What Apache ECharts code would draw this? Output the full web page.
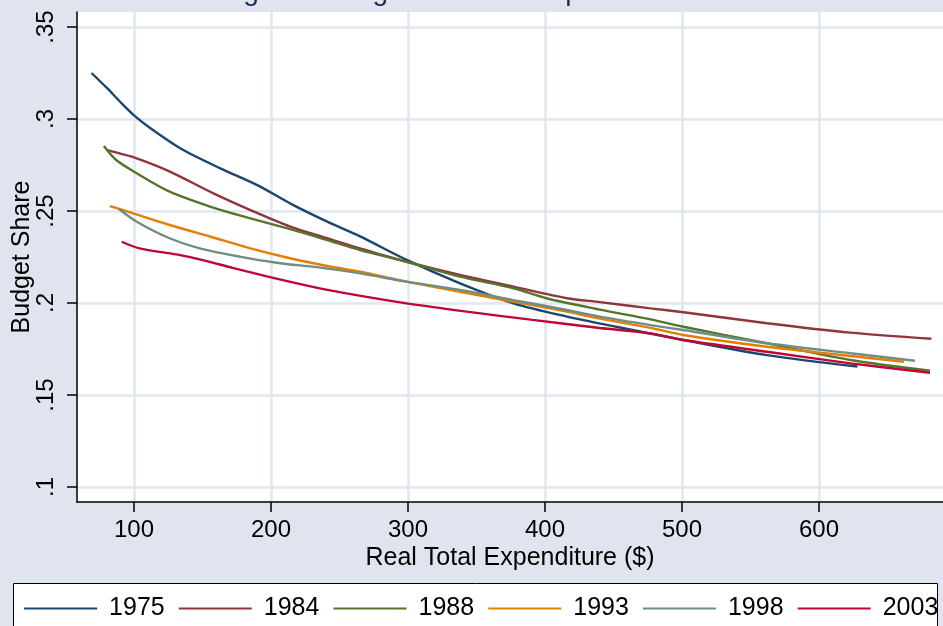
<!DOCTYPE html>
<html><head><meta charset="utf-8">
<script src="https://cdn.jsdelivr.net/npm/echarts@6/dist/echarts.min.js"></script>
<style>html,body{margin:0;padding:0;background:#dfe4ee}#c{width:943px;height:626px}</style>
</head><body><div id="c"></div>
<script>
const chartTitle = 'Figure 3: Engel Curves - Separate Years';
const xAxisTitle = 'Real Total Expenditure ($)';
const yAxisTitle = 'Budget Share';
const seriesNames = ['1975', '1984', '1988', '1993', '1998', '2003'];
const xTickValues = [100, 200, 300, 400, 500, 600];
const xTickLabels = ['100', '200', '300', '400', '500', '600'];
const yTickValues = [0.1, 0.15, 0.2, 0.25, 0.3, 0.35];
const yTickLabels = ['.1', '.15', '.2', '.25', '.3', '.35'];

const x1975 = [69, 80, 91, 100, 112, 134, 163, 190, 216, 241, 265, 299, 338, 377, 416, 452, 501, 562, 628];
const y1975 = [0.325, 0.317, 0.3085, 0.302, 0.295, 0.284, 0.2732, 0.2641, 0.2533, 0.2442, 0.2362, 0.2234, 0.2107, 0.1998, 0.1926, 0.1871, 0.1799, 0.1717, 0.1655];
const x1984 = [80, 90, 102, 125, 158, 185, 214, 241, 265, 299, 338, 377, 416, 440, 477, 501, 562, 623, 682];
const y1984 = [0.2832, 0.2812, 0.2786, 0.2718, 0.2596, 0.2505, 0.2415, 0.2352, 0.2297, 0.2224, 0.2152, 0.2089, 0.2026, 0.2005, 0.1971, 0.195, 0.189, 0.1839, 0.1806];
const x1988 = [78, 87, 102, 126, 156, 185, 216, 241, 265, 299, 338, 377, 401, 440, 477, 501, 562, 623, 681];
const y1988 = [0.2853, 0.2777, 0.2705, 0.2605, 0.2523, 0.246, 0.2397, 0.2342, 0.2288, 0.2224, 0.2143, 0.208, 0.2026, 0.1964, 0.1911, 0.1871, 0.1781, 0.169, 0.1632];
const x1993 = [82.5, 99.5, 126, 156, 185, 214, 241, 265, 299, 338, 377, 416, 440, 477, 501, 562, 623, 662];
const y1993 = [0.2527, 0.2487, 0.2424, 0.236, 0.2297, 0.2243, 0.2201, 0.217, 0.2116, 0.2061, 0.2007, 0.1953, 0.1915, 0.1865, 0.1826, 0.1762, 0.1712, 0.1681];
const x1998 = [89, 102, 126, 148, 177, 204, 236, 265, 299, 338, 377, 416, 440, 477, 501, 562, 623, 670];
const y1998 = [0.2511, 0.2442, 0.2352, 0.2297, 0.2252, 0.2219, 0.2192, 0.2161, 0.2116, 0.2071, 0.2016, 0.1962, 0.1926, 0.188, 0.1853, 0.1781, 0.1727, 0.1686];
const x2003 = [91, 104, 131, 151, 172, 197, 228, 253, 299, 343, 391, 440, 477, 501, 562, 623, 681];
const y2003 = [0.2333, 0.2297, 0.2264, 0.2232, 0.2191, 0.2145, 0.2092, 0.2055, 0.1998, 0.1953, 0.1908, 0.1864, 0.1835, 0.1799, 0.1735, 0.1672, 0.1621];

const seriesX = [x1975, x1984, x1988, x1993, x1998, x2003];
const seriesY = [y1975, y1984, y1988, y1993, y1998, y2003];
const colors = ['#1a476f', '#90353b', '#55752f', '#e37e00', '#6e8e84', '#c10534'];

const FONT = '"Liberation Sans", Arial, sans-serif';
const gridColor = '#e1e6ef';

const chart = echarts.init(document.getElementById('c'), null, {renderer: 'canvas'});
chart.setOption({
  animation: false,
  backgroundColor: '#dfe4ee',
  title: {
    text: chartTitle, left: 'center', top: -27,
    textStyle: {fontFamily: FONT, fontSize: 28, fontWeight: 'normal', color: '#1e2b57'}
  },
  grid: {left: 77, top: 12, right: 0, bottom: 124, show: true, backgroundColor: '#ffffff', borderWidth: 0,
    containLabel: false, outerBoundsMode: 'none'},
  xAxis: {
    type: 'value', min: 58.39, max: 690.5,
    name: xAxisTitle, nameLocation: 'middle', nameGap: 44, nameMoveOverlap: false,
    nameTextStyle: {fontFamily: FONT, fontSize: 25, color: '#000'},
    axisLine: {show: true, onZero: false, lineStyle: {color: '#000', width: 1.5}},
    axisTick: {show: true, length: 10, customValues: xTickValues, lineStyle: {color: '#000', width: 1.5}},
    axisLabel: {customValues: xTickValues, margin: 16, fontFamily: FONT, fontSize: 24, color: '#000',
      formatter: v => xTickLabels[xTickValues.indexOf(v)] ?? ''},
    splitLine: {show: true, lineStyle: {color: gridColor, width: 2.5}}
  },
  yAxis: {
    type: 'value', min: 0.09185, max: 0.35815,
    name: yAxisTitle, nameLocation: 'middle', nameGap: 42, nameRotate: 90, nameMoveOverlap: false,
    nameTextStyle: {fontFamily: FONT, fontSize: 25, color: '#000'},
    axisLine: {show: true, onZero: false, lineStyle: {color: '#000', width: 1.5}},
    axisTick: {show: true, length: 10, customValues: yTickValues, lineStyle: {color: '#000', width: 1.5}},
    axisLabel: {customValues: yTickValues, rotate: 90, margin: 19, fontFamily: FONT, fontSize: 24, color: '#000',
      formatter: v => { const i = yTickValues.findIndex(t => Math.abs(t - v) < 1e-9); return i >= 0 ? yTickLabels[i] : ''; }},
    splitLine: {show: true, lineStyle: {color: gridColor, width: 2.5}}
  },
  graphic: [{
    type: 'rect', z: 1, left: 13, top: 583,
    shape: {width: 924, height: 80},
    style: {fill: '#ffffff', stroke: '#000', lineWidth: 1}
  }],
  legend: {
    z: 10, left: 23, top: 596, padding: 0, itemWidth: 73, itemHeight: 22, itemGap: 13,
    data: seriesNames,
    itemStyle: {opacity: 0},
    lineStyle: {width: 2.2},
    textStyle: {fontFamily: FONT, fontSize: 25, color: '#000', padding: [0, 0, 0, 7]}
  },
  series: seriesNames.map((name, i) => ({
    name, type: 'line', symbol: 'none', smooth: 0.3,
    color: colors[i],
    lineStyle: {color: colors[i], width: 2.4},
    data: seriesX[i].map((x, j) => [x, seriesY[i][j]])
  }))
});
</script>
</body></html>
